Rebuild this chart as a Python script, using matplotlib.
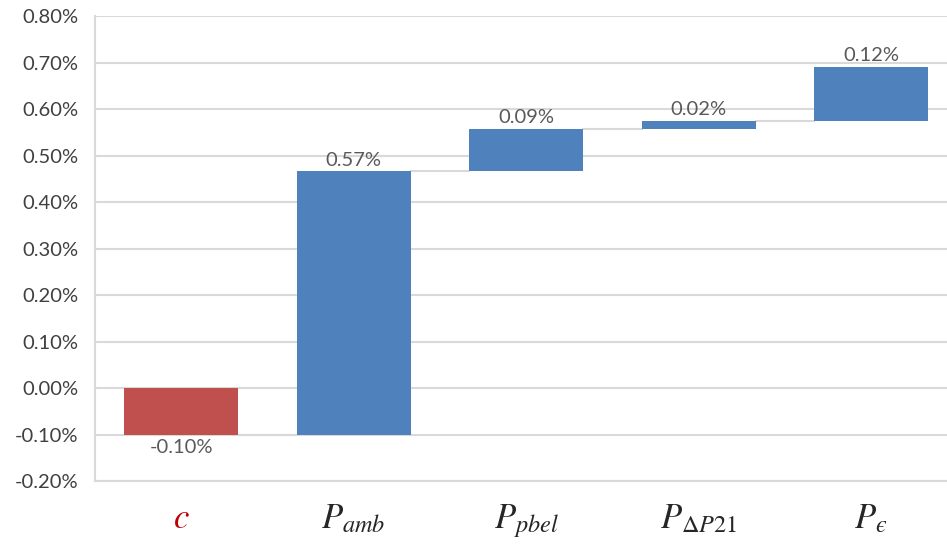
import matplotlib
matplotlib.use("Agg")
import matplotlib.pyplot as plt
from matplotlib.ticker import FuncFormatter, MultipleLocator

# Waterfall contributions (percentage points)
categories = [r"$c$", r"$P_{amb}$", r"$P_{pbel}$", r"$P_{\Delta P21}$", "$P_{\u03f5}$"]
contributions = [-0.100, 0.566, 0.091, 0.017, 0.116]
bar_colors = ["#C0504D", "#4F81BD", "#4F81BD", "#4F81BD", "#4F81BD"]
label_colors = ["#C00000", "#262626", "#262626", "#262626", "#262626"]

plt.rcParams["font.family"] = ["Lato", "DejaVu Sans"]
plt.rcParams["mathtext.fontset"] = "stix"

fig = plt.figure(figsize=(9.47, 5.45), dpi=100)
ax = fig.add_axes([0.1003, 0.1174, 0.9106, 0.8532])

# Running totals: first bar starts at zero, each later bar starts where the previous ended
starts = []
ends = []
running = 0.0
for i, v in enumerate(contributions):
    s = 0.0 if i == 0 else running
    e = s + v
    starts.append(s)
    ends.append(e)
    running = e

xs = list(range(len(categories)))
width = 0.66
bottoms = [min(s, e) for s, e in zip(starts, ends)]
heights = [abs(v) for v in contributions]
ax.bar(xs, heights, bottom=bottoms, width=width, color=bar_colors, zorder=3)

# Connector lines between consecutive bars
for i in range(len(xs) - 1):
    ax.plot([xs[i] + width / 2, xs[i + 1] - width / 2], [ends[i], ends[i]],
            color="#D9D9D9", lw=1.5, zorder=2)

# Value labels
for x, s, e, v in zip(xs, starts, ends, contributions):
    txt = f"{v:.2f}%"
    if v >= 0:
        ax.text(x, max(s, e) + 0.006, txt, ha="center", va="bottom",
                fontsize=14.5, color="#595959", zorder=4)
    else:
        ax.text(x, min(s, e) - 0.010, txt, ha="center", va="top",
                fontsize=14.5, color="#595959", zorder=4)

ax.set_xlim(-0.5, len(xs) - 0.5)
ax.set_ylim(-0.2, 0.8)
ax.yaxis.set_major_locator(MultipleLocator(0.1))
ax.yaxis.set_major_formatter(FuncFormatter(lambda y, _: f"{y:.2f}%"))
ax.grid(axis="y", color="#D9D9D9", lw=1.5, zorder=0)
ax.set_axisbelow(True)

ax.set_xticks(xs)
ax.set_xticklabels(categories, fontsize=25)
for lbl, c in zip(ax.get_xticklabels(), label_colors):
    lbl.set_color(c)

ax.tick_params(axis="y", length=0, pad=12, labelsize=14.5, labelcolor="#404040")
ax.tick_params(axis="x", length=0, pad=15)

for side in ["top", "right"]:
    ax.spines[side].set_visible(False)
for side in ["left", "bottom"]:
    ax.spines[side].set_color("#D9D9D9")
    ax.spines[side].set_linewidth(1.5)

fig.savefig("out.png", dpi=100, facecolor="white")
